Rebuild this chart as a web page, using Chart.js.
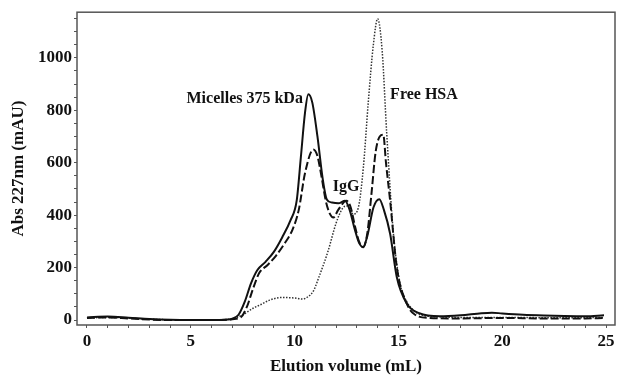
<!DOCTYPE html>
<html>
<head>
<meta charset="utf-8">
<script src="https://cdn.jsdelivr.net/npm/chart.js@4"></script>
<style>
    html, body { margin: 0; padding: 0; background: #fff; }
    #wrap { width: 619px; height: 379px; }
</style>
</head>
<body>
<div id="wrap"><canvas id="chart" width="619" height="379"></canvas></div>
<script>
// Elution volume (mL) and absorbance (mAU)
const solidX = [0, 1, 2, 3, 4, 5, 6, 6.8, 7.0, 7.3, 7.6, 7.9, 8.2, 8.6, 9.0, 9.4, 9.8, 10.1, 10.3, 10.5, 10.66, 10.85, 11.1, 11.35, 11.55, 11.8, 12.1, 12.43, 12.65, 12.9, 13.1, 13.3, 13.5, 13.8, 14.08, 14.3, 14.6, 14.92, 15.4, 16.0, 17, 18, 19, 19.5, 20, 21, 22, 23, 24, 24.9];
const solidY = [10, 13, 9, 4, 1, 0, 0, 2, 5, 20, 70, 140, 190, 222, 260, 315, 380, 455, 620, 790, 861, 830, 700, 540, 460, 448, 445, 455, 420, 345, 295, 278, 320, 430, 461, 420, 329, 164, 63, 26, 14, 18, 26, 28, 25, 20, 17, 15, 14, 18];

const dashX = [0, 1, 2, 3, 4, 5, 6, 6.8, 7.0, 7.4, 7.7, 8.0, 8.3, 8.7, 9.1, 9.5, 9.9, 10.2, 10.5, 10.9, 11.1, 11.3, 11.5, 11.7, 11.87, 12.1, 12.5, 12.7, 12.9, 13.1, 13.3, 13.5, 13.7, 13.9, 14.1, 14.27, 14.4, 14.6, 14.92, 15.4, 15.8, 16.5, 18, 20, 22, 24, 24.9];
const dashY = [8, 10, 6, 2, 0, 0, 0, 1, 3, 10, 50, 120, 180, 210, 245, 290, 345, 420, 560, 650, 625, 545, 455, 405, 391, 420, 455, 430, 360, 300, 278, 330, 480, 640, 700, 707, 600, 455, 202, 63, 20, 8, 6, 8, 6, 6, 8];

const dotX = [0, 1, 2, 3, 4, 5, 6, 7.05, 7.5, 8.0, 8.4, 8.8, 9.4, 10.0, 10.4, 10.66, 10.9, 11.2, 11.6, 12.0, 12.3, 12.51, 12.83, 13.07, 13.31, 13.55, 13.79, 14.0, 14.22, 14.43, 14.76, 15.08, 15.4, 15.72, 16.0, 17, 18, 20, 22, 24, 24.9];
const dotY = [8, 10, 7, 3, 1, 0, 0, 6, 20, 45, 60, 76, 86, 84, 80, 90, 110, 170, 260, 370, 425, 435, 404, 429, 581, 833, 1048, 1149, 1023, 720, 328, 139, 70, 38, 22, 12, 10, 10, 9, 9, 10];

const xTickLabels = [0, 5, 10, 15, 20, 25];
const yTickLabels = [0, 200, 400, 600, 800, 1000];

// peak labels: [text, x, y, align]
const peakLabels = [
    ['Micelles 375 kDa', 10.4, 845, 'right'],
    ['IgG', 12.48, 508, 'center'],
    ['Free HSA', 14.6, 860, 'left']
];

const toPoints = (xs, ys) => xs.map((x, i) => ({ x: x, y: ys[i] }));

const serif = '"Liberation Serif", "Times New Roman", serif';

const frameAndLabels = {
    id: 'frameAndLabels',
    afterDraw(chart) {
        const { ctx, chartArea, scales } = chart;
        ctx.save();
        ctx.strokeStyle = '#555';
        ctx.lineWidth = 1.5;
        ctx.strokeRect(chartArea.left, chartArea.top, chartArea.right - chartArea.left, chartArea.bottom - chartArea.top);
        ctx.fillStyle = '#111';
        ctx.font = 'bold 16px ' + serif;
        ctx.textBaseline = 'middle';
        peakLabels.forEach(([text, x, y, align]) => {
            ctx.textAlign = align;
            ctx.fillText(text, scales.x.getPixelForValue(x), scales.y.getPixelForValue(y));
        });
        ctx.restore();
    }
};

const ctx = document.getElementById('chart').getContext('2d');
new Chart(ctx, {
    type: 'line',
    data: {
        datasets: [
            {
                label: 'solid',
                data: toPoints(solidX, solidY),
                borderColor: '#111',
                borderWidth: 2,
                pointRadius: 0,
                cubicInterpolationMode: 'monotone'
            },
            {
                label: 'dashed',
                data: toPoints(dashX, dashY),
                borderColor: '#111',
                borderWidth: 2,
                borderDash: [8, 3],
                pointRadius: 0,
                cubicInterpolationMode: 'monotone'
            },
            {
                label: 'dotted',
                data: toPoints(dotX, dotY),
                borderColor: '#333',
                borderWidth: 1.5,
                borderDash: [1.5, 1.5],
                pointRadius: 0,
                cubicInterpolationMode: 'monotone'
            }
        ]
    },
    options: {
        responsive: false,
        animation: false,
        layout: { padding: { top: 10, right: 4, left: 0, bottom: 0 } },
        plugins: {
            legend: { display: false },
            tooltip: { enabled: false }
        },
        scales: {
            x: {
                type: 'linear',
                min: -0.48,
                max: 25.43,
                afterFit: (s) => { s.height = 54; },
                border: { display: false },
                grid: { drawOnChartArea: false, drawTicks: true, tickLength: 3, tickColor: '#555' },
                ticks: {
                    stepSize: 1,
                    includeBounds: false,
                    autoSkip: false,
                    maxRotation: 0,
                    padding: 3,
                    color: '#111',
                    font: { family: serif, size: 17, weight: 'bold' },
                    callback: (v) => xTickLabels.includes(v) ? String(v) : ''
                },
                title: {
                    display: true,
                    text: 'Elution volume (mL)',
                    color: '#111',
                    font: { family: serif, size: 17, weight: 'bold' },
                    padding: { top: 0, bottom: 2 }
                }
            },
            y: {
                type: 'linear',
                min: -19,
                max: 1174,
                afterFit: (s) => { s.width = 77; },
                border: { display: false },
                grid: { drawOnChartArea: false, drawTicks: true, tickLength: 3, tickColor: '#555' },
                ticks: {
                    stepSize: 50,
                    includeBounds: false,
                    autoSkip: false,
                    padding: 2,
                    color: '#111',
                    font: { family: serif, size: 17, weight: 'bold' },
                    callback: (v) => yTickLabels.includes(v) ? String(v) : ''
                },
                title: {
                    display: true,
                    text: 'Abs 227nm (mAU)',
                    color: '#111',
                    font: { family: serif, size: 17, weight: 'bold' },
                    padding: { top: 8, bottom: 0 }
                }
            }
        }
    },
    plugins: [frameAndLabels]
});
</script>
</body>
</html>
